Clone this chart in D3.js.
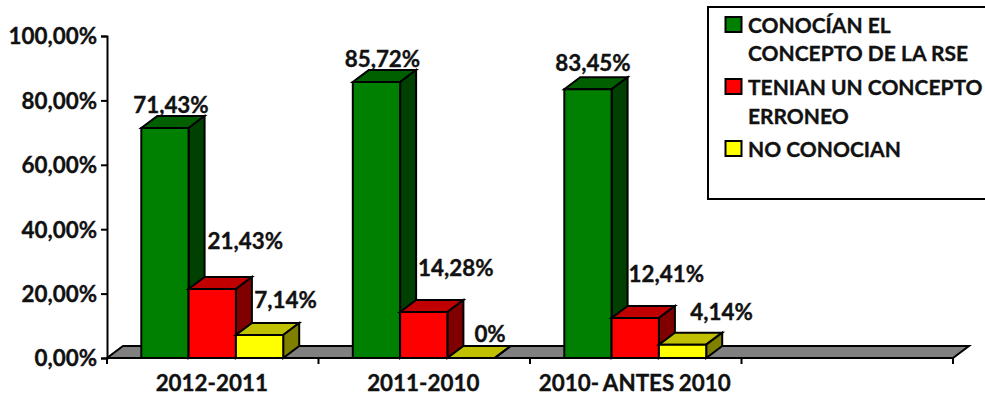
<!DOCTYPE html>
<html><head><meta charset="utf-8">
<script src="https://cdn.jsdelivr.net/npm/d3@7/dist/d3.min.js"></script>
<style>html,body{margin:0;padding:0;background:#fff}svg{display:block}text{font-family:Lato,"Open Sans",sans-serif;font-weight:700;fill:#111;stroke:#111;stroke-width:.35px}</style>
</head><body><svg id="c" width="985" height="400"></svg>
<script>
const categories = ["2012-2011", "2011-2010", "2010- ANTES 2010", ""];
const seriesNames = ["CONOCÍAN EL|CONCEPTO DE LA RSE", "TENIAN UN CONCEPTO|ERRONEO", "NO CONOCIAN"];
const conocian = [71.43, 85.72, 83.45];
const erroneo = [21.43, 14.28, 12.41];
const noConocian = [7.14, 0, 4.14];
const yTicks = [0, 20, 40, 60, 80, 100];

const colors = [
  {front:"#008000", top:"#006000", side:"#004000"},
  {front:"#ff0000", top:"#c00000", side:"#800000"},
  {front:"#ffff00", top:"#c0c000", side:"#808000"}];
const series = [conocian, erroneo, noConocian];
// label nudges relative to each bar's top centre [dx, dy], per category then series
const nudges = [
  [[6,-23],[33,-48],[26,-35]],
  [[6,-23],[32,-44],[19,-24]],
  [[5,-26],[31,-44],[39,-33]]];

const svg = d3.select("#c");
const y = d3.scaleLinear().domain([0,100]).range([358,36]);
const x = d3.scaleBand().domain(categories).range([107,953]);
const barW = 47.3, pad = (x.bandwidth()-3*barW)/2 - 0.5;
const DX = 16, DY = -12;
const line = d3.line();
const poly = (pts, fill) => svg.append("path").attr("d", line(pts)+"Z")
  .attr("fill", fill).attr("stroke","#000").attr("stroke-width",2).attr("stroke-linejoin","miter");

// floor
const y0 = y(0);
poly([[107,y0],[953,y0],[953+DX,y0+DY],[107+DX,y0+DY]], "#808080");

// bars
categories.slice(0,3).forEach((c,i)=>{
  series.forEach((vals,s)=>{
    const x0 = x(c)+pad+s*barW, x1 = x0+barW, t = y(vals[i]), col = colors[s];
    poly([[x0,t],[x1,t],[x1+DX,t+DY],[x0+DX,t+DY]], col.top);
    poly([[x1,t],[x1+DX,t+DY],[x1+DX,y0+DY],[x1,y0]], col.side);
    if (vals[i] > 0) poly([[x0,t],[x1,t],[x1,y0],[x0,y0]], col.front);
  });
});

// axes
const fmtY = d => d3.format(".2f")(d).replace(".",",")+"%";
const gy = svg.append("g").attr("transform","translate(107,0)")
  .call(d3.axisLeft(y).tickValues(yTicks).tickFormat(fmtY).tickSize(6).tickPadding(4));
gy.selectAll(".domain").attr("stroke","#000").attr("stroke-width",2);
gy.selectAll("line").attr("stroke","#000").attr("stroke-width",2);
gy.selectAll("text").attr("font-size",22.4).attr("dy","0.35em");

const gx = svg.append("g").attr("transform",`translate(0,${y0})`)
  .call(d3.axisBottom(x).tickSize(0).tickPadding(22));
gx.selectAll(".domain").remove();
gx.selectAll("text").attr("font-size",22.4).attr("word-spacing",-1)
  .attr("dx",-1).attr("dy","0.5em");
const edges = categories.map(c=>x(c)).concat([x.range()[1]]);
gx.selectAll("line.edge").data(edges).join("line").attr("class","edge")
  .attr("x1",d=>d).attr("x2",d=>d).attr("y1",0).attr("y2",6)
  .attr("stroke","#000").attr("stroke-width",2);

// data labels
const fmtV = v => v===0 ? "0%" : d3.format(".2f")(v).replace(".",",")+"%";
categories.slice(0,3).forEach((c,i)=>{
  series.forEach((vals,s)=>{
    const cx = x(c)+pad+(s+.5)*barW, t = y(vals[i]), n = nudges[i][s];
    svg.append("text").attr("x",cx+n[0]).attr("y",t+n[1]).attr("dy","0.35em")
      .attr("text-anchor","middle").attr("font-size",22.4).text(fmtV(vals[i]));
  });
});

// legend
svg.append("rect").attr("x",708).attr("y",7).attr("width",300).attr("height",192)
  .attr("fill","#fff").attr("stroke","#000").attr("stroke-width",2);
const rowCenters = [[26,54],[88,117],[150]];
seriesNames.forEach((name,s)=>{
  const rows = name.split("|");
  svg.append("rect").attr("x",725.5).attr("y",rowCenters[s][0]-9).attr("width",16).attr("height",15)
    .attr("fill",colors[s].front).attr("stroke","#000").attr("stroke-width",2);
  rows.forEach((r,k)=>svg.append("text").attr("x",748).attr("y",rowCenters[s][k]).attr("dy","0.35em")
    .attr("font-size",21).text(r));
});
</script></body></html>
